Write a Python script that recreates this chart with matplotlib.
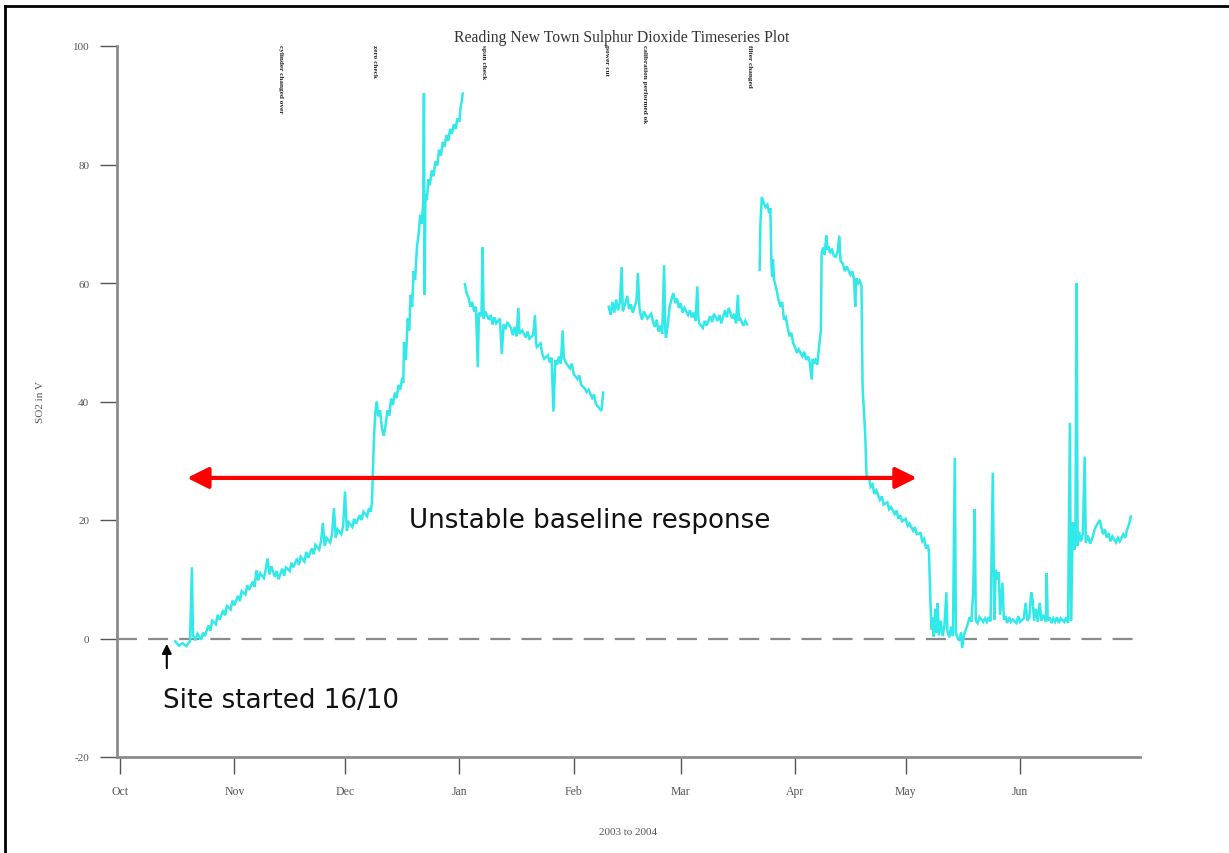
import matplotlib
matplotlib.use("Agg")
import matplotlib.pyplot as plt
import matplotlib.dates as mdates
from matplotlib.lines import Line2D
import numpy as np
import pandas as pd

plt.rcParams["axes.unicode_minus"] = False

# days counted from 1 Oct 2003, values in SO2 units
seg_oct_dec = [
    (15, -0.5), (16, -1.2), (17, -0.8), (18, -1.3), (19, -0.4), (19.5, 12.0), (19.8, 0.5),
    (20.5, -0.3), (21, 0.8), (22, -0.2), (22.5, 1.0), (23, 0.4), (24, 2.2), (24.5, 1.3),
    (25, 3.0), (26, 2.4), (26.5, 4.0), (27, 3.2), (28, 4.8), (28.5, 3.9), (29, 5.5), (30, 4.9),
    (30.5, 6.4), (31, 5.6), (32, 7.2), (32.5, 6.3), (33, 8.0), (34, 7.4), (34.5, 9.0), (35, 8.2),
    (36, 9.6), (36.5, 8.7), (37, 11.5), (37.5, 9.8), (38, 11.0), (39, 10.2), (39.5, 11.6),
    (40, 13.5), (40.5, 10.8), (41, 12.2), (42, 10.4), (42.5, 11.4), (43, 10.0), (44, 11.8),
    (44.5, 10.6), (45, 12.0), (46, 11.4), (46.5, 12.8), (47, 12.0), (48, 13.5), (48.5, 12.4),
    (49, 13.8), (50, 13.0), (50.5, 14.6), (51, 13.6), (52, 15.2), (52.5, 14.2), (53, 15.8),
    (54, 15.0), (54.5, 16.4), (55, 19.5), (55.5, 15.6), (56, 17.0), (57, 16.2), (57.5, 17.6),
    (58, 22.0), (58.5, 17.0), (59, 18.4), (60, 17.6), (60.5, 19.0), (61, 24.8), (61.5, 18.2),
    (62, 19.6), (63, 18.8), (63.5, 20.2), (64, 19.4), (65, 20.8), (65.5, 20.0), (66, 21.4),
    (67, 20.6), (67.5, 22.0), (68, 21.4), (68.3, 23.0),
    (68.6, 28.5), (68.8, 33.0), (69.2, 38.0), (69.6, 40.0), (70, 37.5), (70.5, 38.5),
    (71, 35.5), (71.5, 34.2), (72, 36.0), (72.5, 38.5), (73, 37.6), (73.5, 40.5), (74, 39.4),
    (74.5, 41.5), (75, 40.6), (75.5, 42.8), (76, 42.0), (76.5, 44.0), (76.8, 43.2),
    (77.0, 50.0), (77.5, 47.0), (78, 54.0), (78.4, 52.0), (78.8, 58.0), (79.2, 56.0),
    (79.6, 62.0), (80, 60.5), (80.5, 66.0), (81, 68.5), (81.4, 71.5), (81.8, 70.0),
    (82.2, 73.5), (82.4, 92.0), (82.6, 58.0), (82.8, 75.0), (83.2, 74.0), (83.6, 77.5),
    (84, 76.5), (84.5, 79.0), (85, 78.0), (85.5, 80.5), (86, 79.8), (86.5, 82.5), (87, 81.5),
    (87.5, 83.8), (88, 83.0), (88.5, 85.0), (89, 84.0), (89.5, 86.0), (90, 85.2), (90.5, 86.8),
    (91, 86.0), (91.5, 87.8), (92, 87.2), (92.3, 89.5), (92.6, 90.5), (92.9, 92.0),
]

seg_jan_feb = [
    (93.5, 59.8), (94, 58.2), (94.5, 57.5), (95, 56.0), (95.5, 56.8), (96, 55.2), (96.5, 56.0),
    (97, 45.8), (97.3, 55.0), (98, 54.4), (98.3, 66.0), (98.6, 54.0), (99, 55.2), (100, 53.8),
    (100.5, 54.6), (101, 53.0), (101.5, 54.2), (102, 53.2), (103, 54.0), (103.5, 48.0),
    (104, 53.0), (104.5, 52.2), (105, 53.4), (106, 52.4), (106.5, 51.2), (107, 52.6),
    (107.5, 51.0), (108, 55.8), (108.3, 51.4), (109, 52.0), (110, 50.8), (110.5, 51.8),
    (111, 50.6), (112, 51.2), (112.5, 54.6), (112.8, 50.0), (113, 49.2), (114, 49.8),
    (114.5, 48.0), (115, 47.2), (116, 47.8), (116.5, 46.6), (117, 47.4), (117.5, 38.3),
    (118, 47.0), (118.5, 46.2), (119, 47.6), (119.5, 46.4), (120, 52.0), (120.3, 47.4),
    (121, 46.4), (122, 45.6), (122.5, 46.4), (123, 44.6), (124, 43.8), (124.5, 44.4),
    (125, 42.8), (126, 42.2), (126.5, 41.6), (127, 42.0), (128, 40.6), (128.5, 41.2),
    (129, 39.6), (130, 38.8), (130.5, 38.4), (131, 41.5),
]

seg_feb_mar = [
    (132.5, 56.0), (133, 54.6), (133.5, 56.8), (134, 55.0), (134.5, 57.2), (135, 55.4),
    (135.5, 56.6), (136, 62.7), (136.3, 55.2), (137, 56.6), (137.5, 57.8), (138, 55.6),
    (138.5, 56.4), (139, 55.0), (140, 57.0), (140.4, 61.7), (140.8, 56.0), (141, 55.0),
    (141.5, 53.8), (142, 55.2), (142.5, 54.6), (143, 54.0), (144, 54.8), (144.5, 53.4),
    (145, 52.6), (145.5, 53.8), (146, 51.8), (146.5, 52.8), (147, 51.4), (147.5, 63.0),
    (147.8, 52.0), (148, 50.8), (148.5, 53.0), (149, 56.0), (149.5, 57.2), (150, 58.3),
    (150.5, 56.6), (151, 57.4), (151.5, 55.8), (152, 56.6), (152.5, 55.0), (153, 55.8),
    (154, 54.6), (154.5, 55.4), (155, 54.2), (155.5, 55.0), (156, 53.6), (156.5, 59.4),
    (156.8, 54.0), (157, 53.2), (158, 52.4), (158.5, 53.6), (159, 52.8), (160, 54.4),
    (160.5, 53.4), (161, 54.8), (162, 53.6), (162.5, 54.6), (163, 53.2), (164, 55.4),
    (164.5, 54.2), (165, 55.8), (166, 54.0), (166.5, 54.8), (167, 53.2), (167.5, 58.0),
    (167.8, 53.6), (168, 54.2), (169, 52.8), (169.5, 53.6), (170, 53.0),
]

seg_mar_jun = [
    (173.4, 62.2), (173.6, 70.0), (174, 74.5), (174.5, 73.5), (175, 72.8), (175.5, 73.2),
    (176, 71.8), (176.3, 72.6), (176.6, 63.0), (176.8, 61.0), (177, 64.0), (177.3, 60.6),
    (178, 58.8), (178.5, 57.2), (179, 56.0), (179.5, 56.8), (180, 53.8), (180.5, 54.2),
    (181, 52.4), (181.5, 51.0), (182, 51.6), (182.5, 49.8), (183, 49.2), (183.5, 48.2),
    (184, 48.8), (185, 47.6), (185.5, 48.4), (186, 47.0), (186.5, 47.6), (187, 46.6),
    (187.5, 43.7), (187.8, 47.2), (188, 46.4), (188.5, 47.0), (189, 46.2), (189.5, 49.2),
    (190, 52.0), (190.2, 65.0), (190.6, 66.0), (191, 64.8), (191.5, 68.0), (191.8, 65.6),
    (192, 66.2), (192.5, 65.0), (193, 65.8), (193.5, 64.6), (194, 64.4), (194.5, 65.2),
    (195, 68.0), (195.3, 63.8), (196, 63.2), (196.5, 62.0), (197, 62.8), (198, 61.4),
    (198.5, 62.0), (199, 60.6), (199.3, 56.0), (199.6, 60.8), (200, 59.8), (200.5, 60.4),
    (201, 59.6), (201.3, 42.5), (201.7, 38.0), (202, 34.7),
    (202.4, 26.8), (203, 27.4), (203.5, 25.6), (204, 26.0), (204.5, 24.4), (205, 25.0),
    (206, 23.4), (206.5, 24.0), (207, 22.6), (208, 23.0), (208.5, 21.8), (209, 22.2),
    (210, 21.0), (210.5, 21.6), (211, 20.2), (211.5, 20.8), (212, 19.8), (213, 20.2),
    (213.5, 19.0), (214, 19.4), (215, 18.2), (215.5, 18.8), (216, 17.6), (217, 17.8),
    (217.5, 16.4), (218, 16.8), (218.5, 15.2), (219, 15.8), (219.3, 14.5),
    (219.7, 6.0), (220, 1.5), (220.3, 3.5), (220.6, 0.3), (221, 5.0), (221.3, 1.0),
    (221.6, 6.0), (222, 0.5), (222.5, 3.0), (223, 0.4), (223.5, 2.2), (224, 7.8),
    (224.3, 1.2), (224.8, 0.2), (225.3, 2.0), (225.8, 0.4), (226.3, 30.5), (226.6, 1.0),
    (227, 0.2), (227.6, -0.4), (228, 1.0), (228.3, -1.6), (228.8, 0.6), (229.3, 1.5),
    (229.8, 2.4), (230.3, 3.6), (230.8, 2.8), (231.3, 8.0), (231.7, 21.8), (232, 3.0),
    (232.5, 2.6), (233, 3.6), (234, 2.8), (234.5, 3.4), (235, 2.8), (235.5, 3.6), (236, 2.9),
    (236.6, 28.0), (237, 3.2), (237.4, 11.6), (237.8, 10.0), (238.2, 11.2), (238.6, 4.0),
    (239.2, 9.4), (239.6, 3.2), (240, 3.8), (240.5, 2.6), (241, 3.6), (241.5, 2.8),
    (242, 3.2), (243, 2.6), (243.5, 3.8), (244, 2.8), (245, 3.4), (245.5, 6.0), (246, 3.0),
    (246.5, 3.6), (247, 7.8), (247.4, 6.4), (247.8, 3.0), (248.3, 5.0), (248.8, 2.8),
    (249.3, 6.0), (249.8, 3.0), (250.3, 4.0), (251, 2.8), (251.2, 11.0), (251.5, 3.0),
    (252, 3.6), (252.5, 2.6), (253, 3.4), (253.5, 2.8), (254, 3.6), (254.5, 2.6), (255, 3.4),
    (256, 2.8), (256.5, 3.6), (257, 2.6), (257.5, 36.4), (257.8, 3.0), (258.3, 19.6),
    (258.7, 15.0), (259, 17.0), (259.3, 60.0), (259.6, 15.6), (260, 18.0), (260.5, 16.4),
    (261, 17.6), (261.5, 30.7), (261.8, 16.2), (262.3, 17.4), (263, 16.0), (263.7, 17.2),
    (264.3, 18.6), (265, 19.4), (265.6, 20.0), (266, 18.8), (266.5, 17.6), (267, 18.4),
    (267.5, 17.0), (268, 17.8), (268.5, 16.4), (269, 17.2), (270, 16.2), (270.5, 17.0),
    (271, 16.4), (272, 17.6), (272.5, 17.0), (273, 18.4), (273.5, 19.2), (274, 20.6),
]

# month ticks shown on the x axis
month_starts = ["2003-10-01", "2003-11-01", "2003-12-01", "2004-01-01", "2004-02-01",
                "2004-03-01", "2004-04-01", "2004-05-01", "2004-06-01"]
month_labels = ["Oct", "Nov", "Dec", "Jan", "Feb", "Mar", "Apr", "May", "Jun"]

# event notes written down the top of the plot (too small to read in the source)
event_days = [43.4, 69.1, 98.6, 132.0, 142.3, 170.7]
event_labels = ["cylinder changed over", "zero check", "span check", "power cut",
                "calibration performed ok", "filter changed"]

start = mdates.date2num(pd.Timestamp("2003-10-01"))

days, vals = [], []
for seg in [seg_oct_dec, seg_jan_feb, seg_feb_mar, seg_mar_jun]:
    d, v = zip(*seg)
    days += list(d) + [np.nan]
    vals += list(v) + [np.nan]
x = start + np.array(days)
y = np.array(vals)

fig = plt.figure(figsize=(12.29, 8.54), dpi=100)
ax = fig.add_axes([117 / 1229, 1 - 758 / 854, (1140 - 117) / 1229, (758 - 47) / 854])

ax.plot(x, y, color="#33e8e8", lw=1.8, solid_joinstyle="miter")
ax.axhline(0, color="#8a8a8a", lw=1.6, ls=(0, (9, 5)), zorder=1)

ax.set_xlim(start - 0.8, start + 276.5)
ax.set_ylim(-20, 100)
ax.set_yticks([-20, 0, 20, 40, 60, 80, 100])
ax.set_xticks(mdates.date2num(pd.to_datetime(month_starts)))
ax.set_xticklabels(month_labels)

for side in ["top", "right"]:
    ax.spines[side].set_visible(False)
for side in ["left", "bottom"]:
    ax.spines[side].set_color("#8c8c8c")
    ax.spines[side].set_linewidth(2)

serif = "Liberation Serif"
ax.tick_params(axis="y", length=12, width=1, color="#555555", pad=8,
               labelsize=8, labelcolor="#555555")
ax.tick_params(axis="x", length=12, width=1, color="#555555", pad=8,
               labelsize=8.5, labelcolor="#555555")
for lab in ax.get_xticklabels() + ax.get_yticklabels():
    lab.set_fontfamily(serif)

ax.set_xlabel("2003 to 2004", fontsize=8, family=serif, color="#555555", labelpad=22)
ax.set_ylabel("SO2 in V", fontsize=8, family=serif, color="#555555")
ax.yaxis.set_label_coords(-0.07, 0.5)
fig.text(622 / 1229, 1 - 38 / 854, "Reading New Town Sulphur Dioxide Timeseries Plot",
         ha="center", va="center", fontsize=11.3, family=serif, color="#333333")

for d, lab in zip(event_days, event_labels):
    ax.text(start + d, 100.4, lab, rotation=-90, ha="center", va="top",
            fontsize=5.2, family=serif, color="#222222", fontweight="bold", clip_on=False)

# annotations added over the chart
ax.annotate("", xy=(start + 216.0, 27.1), xytext=(start + 18.2, 27.1),
            arrowprops=dict(arrowstyle="<|-|>", color="red", lw=3, mutation_scale=32,
                            shrinkA=0, shrinkB=0))
ax.text(start + 127.4, 20.0, "Unstable baseline response", ha="center", va="center",
        fontsize=18.8, family="DejaVu Sans", color="#111111")
ax.annotate("", xy=(start + 12.7, -0.9), xytext=(start + 12.7, -5.0),
            arrowprops=dict(arrowstyle="-|>", color="black", lw=1.5, mutation_scale=14,
                            shrinkA=0, shrinkB=0))
ax.text(start + 11.7, -10.4, "Site started 16/10", ha="left", va="center",
        fontsize=18.8, family="DejaVu Sans", color="#111111")

# page frame (left and top edges only)
fig.add_artist(Line2D([5 / 1229, 5 / 1229], [0, 1 - 7 / 854], color="black", lw=2))
fig.add_artist(Line2D([5 / 1229, 1], [1 - 7 / 854, 1 - 7 / 854], color="black", lw=2))

fig.savefig("out.png", dpi=100)
